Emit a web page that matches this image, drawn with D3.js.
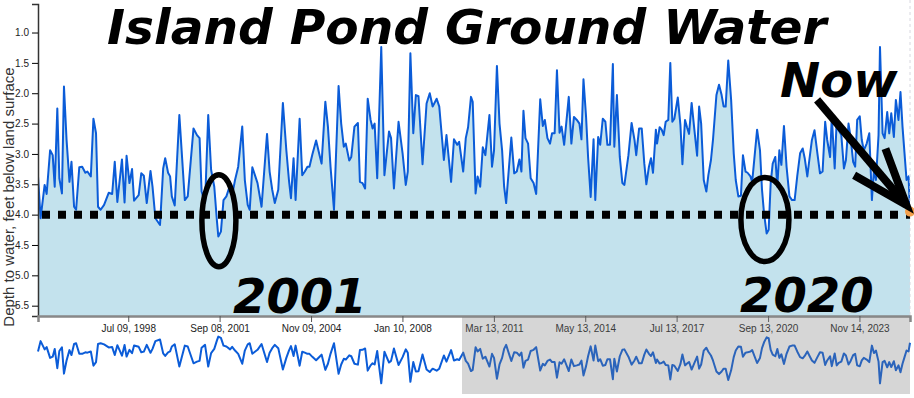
<!DOCTYPE html>
<html>
<head>
<meta charset="utf-8">
<script src="https://cdn.jsdelivr.net/npm/d3@7"></script>
<style>
  body { margin: 0; background: #fff; }
  .axis text { font-family: "Liberation Sans", Arial, sans-serif; font-size: 10px; fill: #222; }
  .x-axis .domain { stroke: #888; stroke-width: 2.5px; }
  .x-axis .tick line { stroke: #555; }
  .y-axis .domain { stroke: #333; stroke-width: 1.5px; }
  .note { font-family: "DejaVu Sans", sans-serif; font-weight: bold; font-style: italic; font-size: 48px; fill: #000; }
</style>
</head>
<body>
<div id="chart"></div>
<script>
// Sample dates (decimal years) and depth to water (ft below land surface)
let years = [
  1995.39, 1995.48, 1995.62, 1995.69, 1995.81, 1995.90, 1995.97, 1996.06, 1996.13, 1996.22,
  1996.29, 1996.38, 1996.48, 1996.55, 1996.64, 1996.71, 1996.82, 1996.92, 1997.03, 1997.10,
  1997.22, 1997.31, 1997.40, 1997.47, 1997.56, 1997.68, 1997.84, 1997.96, 1998.05, 1998.14,
  1998.30, 1998.39, 1998.46, 1998.56, 1998.65, 1998.72, 1998.88, 1998.97, 1999.06, 1999.16,
  1999.29, 1999.36, 1999.46, 1999.62, 1999.73, 1999.80, 1999.90, 1999.97, 2000.03, 2000.13,
  2000.29,
  2000.48, 2000.58, 2000.78, 2000.90, 2000.99, 2001.06, 2001.18, 2001.29, 2001.39, 2001.50,
  2001.59, 2001.64, 2001.73, 2001.82, 2001.92, 2002.05, 2002.12, 2002.22, 2002.33, 2002.47,
  2002.56, 2002.66, 2002.73, 2002.82, 2002.91, 2003.00, 2003.14, 2003.33, 2003.42, 2003.51,
  2003.60, 2003.72, 2003.88, 2004.00, 2004.09, 2004.16, 2004.25, 2004.32, 2004.46, 2004.55,
  2004.64, 2004.73, 2004.80, 2004.90, 2005.03, 2005.15, 2005.22,
  2005.35, 2005.44, 2005.53, 2005.65, 2005.81, 2005.90, 2005.99, 2006.06, 2006.18, 2006.25,
  2006.36, 2006.48, 2006.55, 2006.64, 2006.73, 2006.82, 2006.92, 2006.99, 2007.06, 2007.15,
  2007.29, 2007.40, 2007.56, 2007.63, 2007.73, 2007.89, 2008.03, 2008.14, 2008.21, 2008.30,
  2008.40, 2008.49, 2008.58, 2008.72, 2008.86, 2008.97, 2009.07, 2009.21, 2009.30, 2009.46,
  2009.55, 2009.71, 2009.81, 2009.92, 2009.99, 2010.13, 2010.22,
  2010.30, 2010.40, 2010.46, 2010.56, 2010.63, 2010.72, 2010.81, 2010.90, 2011.04, 2011.13,
  2011.20, 2011.30, 2011.39, 2011.48, 2011.55, 2011.62, 2011.80, 2011.90, 2011.99, 2012.08,
  2012.15, 2012.22, 2012.29, 2012.38, 2012.47, 2012.57, 2012.66, 2012.80, 2012.89, 2012.96,
  2013.05, 2013.14, 2013.21, 2013.30, 2013.38, 2013.47, 2013.54, 2013.63, 2013.79, 2013.88,
  2013.97, 2014.07, 2014.16, 2014.23, 2014.30, 2014.39, 2014.46, 2014.55, 2014.65, 2014.71,
  2014.81, 2014.88, 2014.97, 2015.06, 2015.13, 2015.22, 2015.32,
  2015.37, 2015.46, 2015.56, 2015.65, 2015.72, 2015.86, 2015.97, 2016.07, 2016.13, 2016.23,
  2016.32, 2016.41, 2016.48, 2016.57, 2016.64, 2016.71, 2016.81, 2016.85, 2016.94, 2017.01,
  2017.08, 2017.15, 2017.24, 2017.31, 2017.38, 2017.45, 2017.57, 2017.66, 2017.73, 2017.82,
  2017.89, 2017.96, 2018.05, 2018.14, 2018.24, 2018.31, 2018.38, 2018.47, 2018.56, 2018.63,
  2018.72, 2018.79, 2018.91, 2019.00, 2019.09, 2019.16, 2019.23, 2019.32, 2019.42, 2019.51,
  2019.58, 2019.67, 2019.76, 2019.83, 2019.92, 2019.99, 2020.09, 2020.15, 2020.32,
  2020.42, 2020.49, 2020.56, 2020.65, 2020.72, 2020.79, 2020.86, 2020.95, 2021.02, 2021.09,
  2021.16, 2021.25, 2021.34, 2021.44, 2021.53, 2021.62, 2021.71, 2021.81, 2021.90, 2021.97,
  2022.06, 2022.13, 2022.22, 2022.31, 2022.41, 2022.50, 2022.59, 2022.68, 2022.75, 2022.85,
  2022.91, 2023.01, 2023.08, 2023.15, 2023.24, 2023.33, 2023.40, 2023.49, 2023.56, 2023.65,
  2023.72, 2023.79, 2023.88, 2023.95, 2024.02, 2024.12, 2024.21, 2024.30, 2024.37, 2024.44,
  2024.53, 2024.58, 2024.67, 2024.74, 2024.83, 2024.90, 2024.97, 2025.06, 2025.13, 2025.22,
  2025.29, 2025.36, 2025.43, 2025.50, 2025.57, 2025.62
];

let depths = [
  3.37, 4.06, 3.51, 3.66, 2.94, 3.02, 3.54, 2.25, 3.40, 3.65,
  1.89, 2.77, 3.46, 3.13, 3.87, 3.92, 3.22, 3.21, 3.31, 3.29,
  3.37, 2.42, 2.66, 3.87, 3.92, 3.84, 3.64, 3.66, 3.13, 3.79,
  3.09, 3.80, 3.03, 3.48, 3.25, 3.77, 3.68, 3.32, 3.36, 3.81,
  3.28, 3.54, 4.06, 4.17, 3.24, 3.07, 3.31, 3.37, 3.70, 3.85,
  2.36,
  3.76, 3.70, 2.58, 2.69, 2.74, 3.62, 3.81, 2.36, 3.26, 3.54,
  4.09, 4.36, 4.28, 3.76, 3.70, 3.51, 3.68, 3.43, 3.21, 2.55,
  3.43, 3.84, 3.92, 3.22, 3.35, 3.48, 3.87, 2.67, 3.29, 3.59,
  3.81, 3.59, 2.16, 2.94, 3.43, 3.73, 3.07, 3.76, 2.42, 3.35,
  3.29, 3.21, 3.21, 3.01, 2.78, 3.02, 3.16,
  2.14, 2.55, 3.21, 3.92, 1.88, 2.50, 2.88, 2.83, 3.11, 3.05,
  2.55, 2.49, 3.46, 3.48, 3.57, 2.09, 2.44, 2.58, 2.50, 3.40,
  1.24, 3.35, 2.63, 2.74, 3.57, 2.47, 2.99, 3.51, 3.29, 1.34,
  2.66, 2.03, 2.05, 3.17, 2.17, 2.00, 2.22, 2.09, 2.22, 3.10,
  2.69, 3.46, 2.76, 2.85, 2.80, 3.29, 2.74,
  2.56, 2.06, 2.14, 3.65, 3.37, 3.54, 2.89, 3.02, 2.36, 3.21,
  2.94, 1.55, 2.50, 2.94, 3.54, 3.81, 2.73, 3.32, 3.29, 3.09,
  3.29, 2.29, 2.74, 2.83, 3.40, 3.48, 3.66, 2.10, 2.54, 2.44,
  2.74, 2.83, 2.66, 2.66, 1.62, 2.65, 2.55, 2.85, 2.06, 2.83,
  2.39, 2.44, 2.50, 2.76, 1.77, 2.39, 3.05, 3.71, 2.76, 3.76,
  2.72, 2.85, 2.42, 2.47, 2.85, 2.85, 1.52,
  2.88, 2.03, 3.05, 3.48, 3.51, 3.02, 2.49, 2.77, 3.02, 2.58,
  2.58, 3.16, 3.50, 3.21, 3.07, 3.31, 2.60, 2.83, 2.56, 2.60,
  2.69, 2.47, 2.44, 1.50, 2.47, 2.42, 2.07, 2.52, 3.17, 2.44,
  2.56, 2.67, 2.16, 2.58, 3.03, 2.22, 2.50, 3.43, 3.62, 3.35,
  3.10, 2.77, 2.03, 1.86, 2.03, 2.22, 2.22, 1.46, 2.11, 2.99,
  3.43, 3.70, 3.69, 3.02, 3.29, 3.31, 3.37, 3.46, 2.60,
  2.94, 3.59, 3.98, 4.31, 4.25, 3.48, 3.16, 3.05, 3.54, 2.94,
  3.18, 2.54, 3.21, 3.70, 3.76, 3.76, 3.37, 2.99, 2.91, 3.07,
  3.37, 3.10, 2.77, 2.61, 2.99, 3.32, 3.29, 2.47, 2.77, 3.05,
  2.39, 3.24, 2.44, 2.61, 2.69, 3.24, 3.10, 2.50, 2.72, 3.13,
  3.21, 2.44, 2.38, 2.77, 2.94, 2.83, 2.66, 3.76, 3.26, 3.43,
  2.69, 1.24, 2.66, 2.74, 2.31, 2.66, 2.33, 2.72, 2.11, 2.44,
  1.98, 2.55, 2.99, 3.43, 3.37, 3.95
];

// Tick labels shown on the time axis
let tickDates = ["1998-07-09", "2001-09-08", "2004-11-09", "2008-01-10", "2011-03-13",
                 "2014-05-13", "2017-07-13", "2020-09-13", "2023-11-14"];
let yTicks = [1.0, 1.5, 2.0, 2.5, 3.0, 3.5, 4.0, 4.5, 5.0, 5.5];
let yDomain = [0.53, 5.67];
let thresholdDepth = 4.0;
let brushFrom = 2010.08;

// Annotations (label years and depths)
let circledYears = [2001.66, 2020.59];
let circledDepths = [4.1, 4.08];
let arrowFrom = [2022.40, 2.11];
let arrowTo = [2025.49, 3.84];

function yearToDate(y) {
    let yr = Math.floor(y);
    let start = new Date(yr, 0, 1), end = new Date(yr + 1, 0, 1);
    return new Date(+start + (y - yr) * (end - start));
}

let data = years.map((yr, i) => ({ date: yearToDate(yr), depth: depths[i] }));

// Chart dimensions
let margin = { top: 4, left: 38 };
let width = 872;
let height = 312;
let contextTop = 317;
let height2 = 77;

let svg = d3.select("#chart")
    .append("svg")
    .attr("width", 914)
    .attr("height", 398);

let x = d3.scaleTime()
    .domain(d3.extent(data, d => d.date))
    .range([0, width]);

// depth grows downward in the main panel
let y = d3.scaleLinear().domain(yDomain).range([0, height]);
// ...and upward in the overview strip
let y2 = d3.scaleLinear().domain(yDomain).range([height2, 0]);

svg.append("defs").append("clipPath")
    .attr("id", "clip")
    .append("rect")
    .attr("width", width)
    .attr("height", height + height2 + 10)
    .attr("y", -margin.top);

let focus = svg.append("g")
    .attr("transform", `translate(${margin.left},${margin.top})`);

let area = d3.area()
    .x(d => x(d.date))
    .y0(height)
    .y1(d => y(d.depth));

let line = d3.line()
    .x(d => x(d.date))
    .y(d => y(d.depth));

focus.append("path")
    .datum(data)
    .attr("clip-path", "url(#clip)")
    .attr("fill", "#c3e2ed")
    .attr("d", area);

focus.append("path")
    .datum(data)
    .attr("clip-path", "url(#clip)")
    .attr("fill", "none")
    .attr("stroke", "#0b5cd8")
    .attr("stroke-width", 2)
    .attr("stroke-linejoin", "round")
    .attr("d", line);

// light marker at the latest reading
let last = data[data.length - 1];
focus.append("line")
    .attr("x1", x(last.date)).attr("x2", x(last.date))
    .attr("y1", -margin.top).attr("y2", height)
    .attr("stroke", "#d8d8e0")
    .attr("stroke-dasharray", "3,3");

// Y axis
focus.append("g")
    .attr("class", "axis y-axis")
    .call(d3.axisLeft(y).tickValues(yTicks).tickFormat(d3.format(".1f")));

svg.append("text")
    .attr("transform", "rotate(-90)")
    .attr("x", -197)
    .attr("y", 14)
    .attr("text-anchor", "middle")
    .style("font-family", "'Liberation Sans', Arial, sans-serif")
    .style("font-size", "15px")
    .attr("fill", "#333")
    .text("Depth to water, feet below land surface");

// Context strip with brush
let context = svg.append("g")
    .attr("transform", `translate(${margin.left},${contextTop})`);

let line2 = d3.line()
    .x(d => x(d.date))
    .y(d => y2(d.depth));

context.append("path")
    .datum(data)
    .attr("fill", "none")
    .attr("stroke", "#0b5cd8")
    .attr("stroke-width", 2)
    .attr("stroke-linejoin", "round")
    .attr("d", line2);

let brush = d3.brushX().extent([[0, 0], [width, height2]]);
context.append("g")
    .attr("class", "brush")
    .call(brush)
    .call(brush.move, [x(yearToDate(brushFrom)), width]);
context.selectAll(".brush .selection").attr("stroke", "none");

// X axis
focus.append("g")
    .attr("class", "axis x-axis")
    .attr("transform", `translate(0,${height})`)
    .call(d3.axisBottom(x)
        .tickValues(tickDates.map(d => d3.timeParse("%Y-%m-%d")(d)))
        .tickFormat(d3.timeFormat("%b %d, %Y")));

// Threshold line at 4 ft
focus.append("line")
    .attr("x1", 4).attr("x2", width)
    .attr("y1", y(thresholdDepth)).attr("y2", y(thresholdDepth))
    .attr("stroke", "#000")
    .attr("stroke-width", 8)
    .attr("stroke-dasharray", "8,8");

focus.append("circle")
    .attr("cx", x(last.date))
    .attr("cy", y(last.depth))
    .attr("r", 5)
    .attr("fill", "#f4a04c");

// Ellipses round the two low points
let radii = [[17, 46], [24, 42]];
circledYears.forEach((yr, i) => {
    focus.append("ellipse")
        .attr("cx", x(yearToDate(yr)))
        .attr("cy", y(circledDepths[i]))
        .attr("rx", radii[i][0])
        .attr("ry", radii[i][1])
        .attr("fill", "none")
        .attr("stroke", "#000")
        .attr("stroke-width", 5.5);
});

// Arrow pointing at "now"
let ax0 = x(yearToDate(arrowFrom[0])), ay0 = y(arrowFrom[1]);
let ax1 = x(yearToDate(arrowTo[0])), ay1 = y(arrowTo[1]);
let ang = Math.atan2(ay0 - ay1, ax0 - ax1);
let headLen = 60, spread = 20 * Math.PI / 180;
let h1 = [ax1 + headLen * Math.cos(ang + spread), ay1 + headLen * Math.sin(ang + spread)];
let h2 = [ax1 + headLen * Math.cos(ang - spread), ay1 + headLen * Math.sin(ang - spread)];

focus.append("line")
    .attr("x1", ax0).attr("y1", ay0)
    .attr("x2", ax1).attr("y2", ay1)
    .attr("stroke", "#000")
    .attr("stroke-width", 8);

focus.append("path")
    .attr("d", `M${h1[0]},${h1[1]}L${ax1},${ay1}L${h2[0]},${h2[1]}`)
    .attr("fill", "none")
    .attr("stroke", "#000")
    .attr("stroke-width", 8)
    .attr("stroke-linejoin", "miter");

// Big labels
svg.append("text").attr("class", "note").attr("x", 107).attr("y", 44)
    .style("font-size", "48.6px").text("Island Pond Ground Water");
svg.append("text").attr("class", "note").attr("x", 780).attr("y", 97).text("Now");
svg.append("text").attr("class", "note").attr("x", 233).attr("y", 313).text("2001");
svg.append("text").attr("class", "note").attr("x", 740).attr("y", 312).text("2020");
</script>
</body>
</html>
